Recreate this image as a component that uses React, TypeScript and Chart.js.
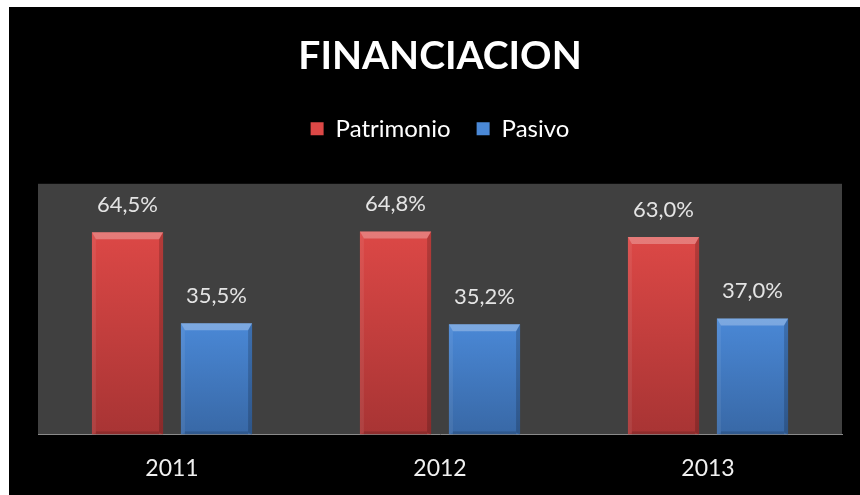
import React, { useEffect, useRef } from "react";
import { Chart, registerables } from "chart.js";

Chart.register(...registerables);

const categories = ["2011", "2012", "2013"];
const patrimonio = [64.5, 64.8, 63.0];
const pasivo = [35.5, 35.2, 37.0];
const seriesNames = ["Patrimonio", "Pasivo"];
const titleText = "FINANCIACION";

const FONT = "Lato";

function fmt(v: number) {
  return v.toFixed(1).replace(".", ",") + "%";
}

function barGradient(solid: string, top: string, bottom: string) {
  return (ctx: any) => {
    const chart = ctx.chart;
    if (ctx.type !== "data" || !chart.chartArea) return solid;
    const y = chart.scales.y;
    const yTop = y.getPixelForValue(ctx.raw);
    const yBase = y.getPixelForValue(0);
    if (!isFinite(yTop) || !isFinite(yBase) || yTop === yBase) return solid;
    const g = chart.ctx.createLinearGradient(0, yTop, 0, yBase);
    g.addColorStop(0, top);
    g.addColorStop(1, bottom);
    return g;
  };
}

const plotBg = {
  id: "plotBg",
  beforeDraw(chart: any) {
    const { ctx, chartArea } = chart;
    if (!chartArea) return;
    ctx.save();
    ctx.fillStyle = "#404040";
    ctx.fillRect(chartArea.left, chartArea.top, chartArea.right - chartArea.left, chartArea.bottom - chartArea.top);
    ctx.restore();
  },
};

const legendSpacer = {
  id: "legendSpacer",
  beforeUpdate(chart: any) {
    const legend = chart.legend;
    if (!legend || legend._spacerPatched) return;
    const orig = legend.fit;
    legend.fit = function () {
      orig.call(this);
      this.height += 33;
    };
    legend._spacerPatched = true;
  },
};

const bevelAndLabels = {
  id: "bevelAndLabels",
  afterDatasetsDraw(chart: any) {
    const { ctx } = chart;
    ctx.save();
    chart.data.datasets.forEach((ds: any, di: number) => {
      const meta = chart.getDatasetMeta(di);
      meta.data.forEach((bar: any, i: number) => {
        const { x, y, base, width } = bar.getProps(["x", "y", "base", "width"], true);
        const l = x - width / 2;
        const r = x + width / 2;
        const t = y;
        const b = base;
        const bt = 7;
        const bs = 4;
        ctx.fillStyle = "rgba(255,255,255,0.28)";
        ctx.beginPath();
        ctx.moveTo(l, t);
        ctx.lineTo(r, t);
        ctx.lineTo(r - bs, t + bt);
        ctx.lineTo(l + bs, t + bt);
        ctx.closePath();
        ctx.fill();
        ctx.fillStyle = "rgba(255,255,255,0.07)";
        ctx.beginPath();
        ctx.moveTo(l, t);
        ctx.lineTo(l + bs, t + bt);
        ctx.lineTo(l + bs, b - 2);
        ctx.lineTo(l, b);
        ctx.closePath();
        ctx.fill();
        ctx.fillStyle = "rgba(0,0,0,0.18)";
        ctx.beginPath();
        ctx.moveTo(r, t);
        ctx.lineTo(r - bs, t + bt);
        ctx.lineTo(r - bs, b - 2);
        ctx.lineTo(r, b);
        ctx.closePath();
        ctx.fill();
        ctx.fillStyle = "rgba(0,0,0,0.15)";
        ctx.fillRect(l + bs, b - 3, width - 2 * bs, 3);
        ctx.fillStyle = "#e4e4e4";
        ctx.font = `22px ${FONT}`;
        ctx.textAlign = "center";
        ctx.textBaseline = "alphabetic";
        ctx.fillText(fmt(ds.data[i]), x, t - 20);
      });
    });
    ctx.restore();
  },
};

export default function App() {
  const canvasRef = useRef<HTMLCanvasElement>(null);

  useEffect(() => {
    const canvas = canvasRef.current;
    if (!canvas) return;
    const chart = new Chart(canvas, {
      type: "bar",
      data: {
        labels: categories,
        datasets: [
          {
            label: seriesNames[0],
            data: patrimonio,
            backgroundColor: barGradient("#d04040", "#dc4846", "#a83434"),
            borderWidth: 0,
            categoryPercentage: 0.664,
            barPercentage: 0.8,
          },
          {
            label: seriesNames[1],
            data: pasivo,
            backgroundColor: barGradient("#4582d0", "#4a88d6", "#3868a6"),
            borderWidth: 0,
            categoryPercentage: 0.664,
            barPercentage: 0.8,
          },
        ],
      },
      options: {
        responsive: false,
        maintainAspectRatio: false,
        animation: false,
        layout: { padding: { left: 29, right: 18, top: 0, bottom: 1 } },
        scales: {
          x: {
            grid: { display: false },
            border: { display: true, color: "#8a8a8a", width: 1 },
            ticks: { color: "#f0f0f0", font: { family: FONT, size: 23 }, padding: 12 },
          },
          y: {
            display: false,
            min: 0,
            max: 80,
          },
        },
        plugins: {
          title: {
            display: true,
            text: titleText,
            color: "#ffffff",
            font: { family: FONT, size: 39, weight: "bold" },
            padding: { top: 26, bottom: 11 },
          },
          legend: {
            display: true,
            position: "top",
            labels: {
              color: "#ffffff",
              font: { family: FONT, size: 24 },
              boxWidth: 13,
              boxHeight: 13,
              padding: 26,
            },
          },
          tooltip: { enabled: false },
        },
      },
      plugins: [plotBg, legendSpacer, bevelAndLabels],
    });
    return () => chart.destroy();
  }, []);

  return (
    <div style={{ position: "fixed", left: 0, top: 0, width: 860, height: 495, background: "#ffffff" }}>
      <div style={{ position: "absolute", left: 9, top: 7, width: 851, height: 488, background: "#000000" }}>
        <canvas ref={canvasRef} width={851} height={488} style={{ display: "block" }} />
      </div>
    </div>
  );
}
